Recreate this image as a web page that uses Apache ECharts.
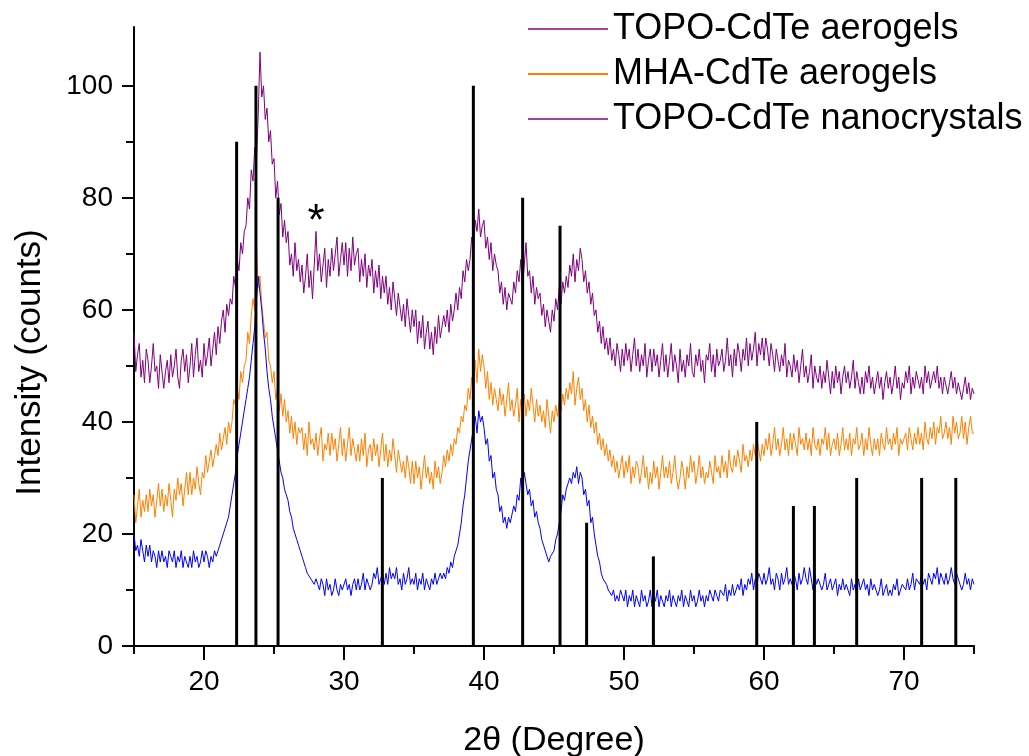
<!DOCTYPE html>
<html>
<head>
<meta charset="utf-8">
<script src="https://cdn.jsdelivr.net/npm/echarts@6/dist/echarts.min.js"></script>
<style>
html,body{margin:0;padding:0;background:#fff;}
#chart{width:1029px;height:756px;}
</style>
</head>
<body>
<div id="chart"></div>
<script>
// 2θ sampling: starts at 15°, one reading every 0.125° (8 readings per degree row below)
const angleStart = 15;
const angleStep = 0.125;

const seriesNames = ['TOPO-CdTe aerogels', 'MHA-CdTe aerogels', 'TOPO-CdTe nanocrystals'];

const topoAerogel = [
56,49,52,54,48,51,47,53,
51,47,50,54,49,50,46,52,
52,46,49,51,47,52,48,50,
53,48,46,51,53,49,52,47,
50,54,48,52,55,49,51,48,
54,50,52,55,50,53,56,52,
57,54,58,60,56,61,59,62,
61,66,64,69,67,72,70,74,
75,80,78,85,83,89,87,95,
106,98,100,94,96,90,92,86,
87,80,83,77,79,73,76,72,
74,68,70,66,72,67,69,65,
68,63,66,70,64,67,62,68,
74,67,70,65,68,71,64,69,
66,71,67,70,73,66,69,72,
68,72,66,71,67,73,68,70,
71,65,69,66,70,64,68,66,
69,63,67,64,68,62,66,63,
66,61,64,60,65,62,59,63,
63,58,61,57,62,59,56,60,
57,60,54,58,55,59,53,56,
58,53,56,52,57,54,59,55,
55,59,57,60,56,61,58,60,
63,60,64,62,67,65,69,67,
69,73,71,76,74,78,73,75,
76,71,73,69,72,67,70,68,
67,63,65,61,64,60,63,62,
61,65,63,67,65,69,64,68,
72,66,67,63,66,61,64,62,
63,59,61,57,60,58,56,60,
58,62,60,64,61,65,63,66,
64,68,66,70,65,69,67,71,
69,65,67,63,65,61,63,59,
60,56,58,54,57,53,55,52,
55,51,53,50,54,52,49,53,
50,54,51,53,49,52,55,50,
53,49,52,50,54,48,51,53,
49,53,50,52,48,51,54,49,
52,48,51,54,49,52,50,47,
53,49,51,48,52,50,54,49,
48,52,50,53,49,51,47,52,
51,54,49,52,48,53,50,51,
53,49,51,55,50,52,48,53,
50,54,52,49,53,51,55,50,
54,51,53,56,50,54,52,55,
51,55,53,50,54,52,49,53,
53,49,52,50,54,48,51,50,
48,52,49,51,47,50,53,48,
50,47,49,52,46,50,48,47,
50,46,49,47,51,48,45,49,
46,50,47,49,45,48,50,47,
49,46,48,51,46,49,47,45,
48,45,49,47,50,46,48,45,
45,49,46,48,44,47,49,46,
48,45,47,50,46,48,44,47,
46,49,47,50,45,48,46,49,
49,46,48,45,50,47,49,46,
46,49,47,50,46,48,45,48,
48,45,47,49,46,48,45,47,
47,44,46,48,45,47,44,46,
45];

const mhaAerogel = [
27,22,25,28,23,26,24,27,
24,28,25,27,23,26,29,25,
28,24,27,25,29,26,23,28,
26,30,27,29,25,28,31,27,
31,27,30,28,32,29,27,31,
30,34,31,33,35,32,34,36,
34,38,35,37,39,36,40,38,
40,44,43,46,44,49,47,50,
51,56,54,59,62,60,71,64,
66,61,58,55,56,51,50,47,
49,44,46,42,45,41,44,40,
42,38,41,37,40,36,39,38,
39,35,38,34,40,36,37,35,
38,34,37,39,33,36,35,38,
34,38,35,37,33,36,39,34,
37,33,36,39,34,37,35,33,
36,33,37,34,38,32,35,36,
33,37,34,36,32,35,38,33,
36,32,35,33,37,34,31,35,
35,31,33,30,34,32,29,33,
29,33,30,32,28,31,34,30,
32,29,31,28,33,30,32,29,
31,34,32,35,33,36,34,37,
36,39,38,41,40,43,42,46,
44,48,46,51,47,53,49,52,
50,46,49,44,47,43,46,44,
42,46,43,45,41,44,47,42,
44,41,43,46,40,44,42,45,
41,44,42,46,43,40,44,41,
43,40,42,39,44,41,38,42,
40,43,41,44,42,45,43,46,
44,47,45,49,43,46,48,44,
46,42,44,40,43,39,41,38,
40,36,38,35,37,34,36,33,
35,32,34,31,33,30,32,34,
30,33,31,34,29,32,30,33,
32,29,31,34,30,32,28,31,
29,33,30,32,28,31,34,30,
32,30,33,29,31,34,30,28,
30,33,31,28,32,30,34,31,
33,29,31,34,30,32,29,31,
30,33,31,29,34,31,32,30,
34,31,33,30,35,32,31,34,
32,35,33,31,36,33,34,32,
35,33,36,34,37,35,33,36,
34,37,35,38,34,36,39,35,
37,34,36,39,35,37,34,38,
35,38,36,34,39,36,37,35,
38,35,37,34,39,36,35,37,
34,37,36,39,35,38,34,36,
37,35,38,34,36,39,35,37,
35,38,34,37,36,39,35,36,
38,34,37,35,39,36,34,37,
35,37,34,38,36,35,39,36,
37,35,38,36,39,34,37,36,
36,38,35,39,37,35,38,36,
39,36,38,35,40,37,36,39,
37,40,36,39,38,41,37,38,
40,37,39,36,41,38,40,37,
38,41,37,40,36,39,41,38,
38];

const topoNano = [
20,17,18,16,19,17,15,18,
16,18,15,17,16,14,17,15,
17,15,16,14,17,16,15,17,
14,16,15,17,14,16,15,14,
16,14,17,15,16,14,15,17,
15,17,16,14,16,15,17,16,
17,18,18,20,21,22,23,25,
27,29,31,34,36,38,40,42,
44,46,48,51,54,57,62,66,
63,60,56,53,49,46,44,41,
39,37,35,33,31,30,28,27,
26,24,23,21,20,19,18,17,
16,15,14,13,13,12,12,11,
12,11,10,12,11,9,12,10,
11,9,10,12,10,9,11,10,
10,12,10,11,9,11,12,10,
12,10,11,13,10,12,11,10,
11,13,12,14,11,12,13,11,
13,11,14,12,13,12,14,11,
12,10,13,11,12,14,11,12,
11,13,10,12,11,13,10,12,
12,10,12,11,13,11,12,13,
12,13,12,14,13,15,14,16,
16,18,20,22,25,27,30,33,
35,37,39,41,38,42,40,41,
39,36,37,33,34,30,31,28,
27,24,25,22,23,21,23,22,
22,25,24,27,26,30,28,31,
29,27,28,25,26,23,24,22,
21,19,18,17,17,15,16,16,
17,19,20,22,24,27,26,28,
28,30,29,31,30,32,29,31,
30,27,28,25,26,22,23,20,
18,16,15,13,12,12,11,10,
10,9,10,8,9,8,10,9,
8,10,7,9,8,10,7,9,
9,7,10,8,9,7,8,10,
7,9,8,10,7,9,8,7,
9,8,10,7,9,8,7,9,
8,10,7,9,8,7,10,8,
9,7,8,10,8,9,7,9,
8,10,9,8,10,9,8,10,
10,9,11,8,10,9,11,9,
9,11,10,12,9,11,10,12,
11,13,10,12,11,13,12,11,
13,11,12,14,11,12,10,13,
12,10,13,11,12,14,11,12,
11,13,12,10,13,11,12,14,
12,11,14,12,10,13,11,12,
12,10,11,13,10,11,12,10,
10,12,9,11,10,12,10,11,
11,9,12,10,11,9,12,10,
10,12,10,11,9,12,10,11,
11,9,10,12,9,10,11,9,
10,9,11,10,12,9,10,11,
11,10,12,10,11,13,10,12,
12,11,13,11,12,10,13,12,
11,13,12,14,11,13,12,11,
13,11,12,14,12,11,13,12,
12,10,11,13,11,12,10,12,
11];

// reference pattern sticks
const stickPos = [22.33, 23.71, 25.29, 32.74, 39.24, 42.76, 45.43, 47.33, 52.1, 59.48, 62.1, 63.6, 66.62, 71.26, 73.7];
const stickInt = [90, 100, 80, 30, 100, 80, 75, 22, 16, 40, 25, 25, 30, 30, 30];

const xMajorTicks = [20, 30, 40, 50, 60, 70];
const xMinorTicks = [15, 25, 35, 45, 55, 65, 75];
const yMajorTicks = [0, 20, 40, 60, 80, 100];
const yMinorTicks = [10, 30, 50, 70, 90];

const toPairs = arr => arr.map((v, i) => [angleStart + i * angleStep, v]);

const FONT = 'Liberation Sans, Arial, sans-serif';
const chart = echarts.init(document.getElementById('chart'), null, {renderer: 'canvas'});

const axisLineStyle = {color: '#000', width: 2};

chart.setOption({
  animation: false,
  backgroundColor: '#fff',
  grid: {left: 134, right: 55, top: 27, bottom: 110, containLabel: false, outerBoundsMode: 'none'},
  legend: {
    orient: 'vertical',
    left: 523,
    top: 4,
    itemWidth: 80,
    itemHeight: 2,
    itemGap: 5,
    icon: 'rect',
    textStyle: {fontFamily: FONT, fontSize: 36, color: '#000', lineHeight: 40},
    data: [
      {name: seriesNames[0], icon: 'rect', itemStyle: {color: '#a040a8'}},
      {name: seriesNames[1], icon: 'rect', itemStyle: {color: '#FF8000'}},
      {name: seriesNames[2], icon: 'rect', itemStyle: {color: '#a040a8'}}
    ]
  },
  xAxis: [
    {
      type: 'value', min: 15, max: 75, position: 'bottom',
      name: '2θ (Degree)', nameLocation: 'middle', nameGap: 78,
      nameTextStyle: {fontFamily: FONT, fontSize: 34, color: '#000'},
      axisLine: {show: true, onZero: false, lineStyle: axisLineStyle},
      axisTick: {show: true, customValues: xMajorTicks, length: 14, lineStyle: axisLineStyle},
      axisLabel: {show: true, customValues: xMajorTicks, fontFamily: FONT, fontSize: 28, color: '#000', margin: 22},
      splitLine: {show: false}
    },
    {
      type: 'value', min: 15, max: 75, position: 'bottom',
      axisLine: {show: false},
      axisTick: {show: true, customValues: xMinorTicks, length: 8, lineStyle: axisLineStyle},
      axisLabel: {show: false},
      splitLine: {show: false}
    }
  ],
  yAxis: [
    {
      type: 'value', min: 0, max: 110.5, position: 'left',
      name: 'Intensity (counts)', nameLocation: 'middle', nameGap: 86,
      nameTextStyle: {fontFamily: FONT, fontSize: 35, color: '#000', padding: [0, 52, 0, 0]},
      axisLine: {show: true, onZero: false, lineStyle: axisLineStyle},
      axisTick: {show: true, customValues: yMajorTicks, length: 12, lineStyle: axisLineStyle},
      axisLabel: {show: true, customValues: yMajorTicks, fontFamily: FONT, fontSize: 28, color: '#000', margin: 21},
      splitLine: {show: false}
    },
    {
      type: 'value', min: 0, max: 110.5, position: 'left',
      axisLine: {show: false},
      axisTick: {show: true, customValues: yMinorTicks, length: 8, lineStyle: axisLineStyle},
      axisLabel: {show: false},
      splitLine: {show: false}
    }
  ],
  series: [
    {
      name: seriesNames[0], type: 'line', data: toPairs(topoAerogel),
      symbol: 'none', lineStyle: {color: '#800080', width: 1}, itemStyle: {color: '#800080'}, z: 3,
      markPoint: {
        symbol: 'circle', symbolSize: 0, silent: true,
        label: {show: true, formatter: '*', fontFamily: FONT, fontSize: 44, color: '#000', position: 'inside'},
        data: [{coord: [28, 75.6], value: '*'}]
      }
    },
    {
      name: seriesNames[1], type: 'line', data: toPairs(mhaAerogel),
      symbol: 'none', lineStyle: {color: '#FF8000', width: 1}, itemStyle: {color: '#FF8000'}, z: 3
    },
    {
      name: seriesNames[2], type: 'line', data: toPairs(topoNano),
      symbol: 'none', lineStyle: {color: '#0000FF', width: 1}, itemStyle: {color: '#0000FF'}, z: 3
    },
    {
      name: 'reference', type: 'bar', barWidth: 3,
      data: stickPos.map((p, i) => [p, stickInt[i]]),
      itemStyle: {color: '#000'}, z: 4, silent: true
    }
  ]
});
</script>
</body>
</html>
